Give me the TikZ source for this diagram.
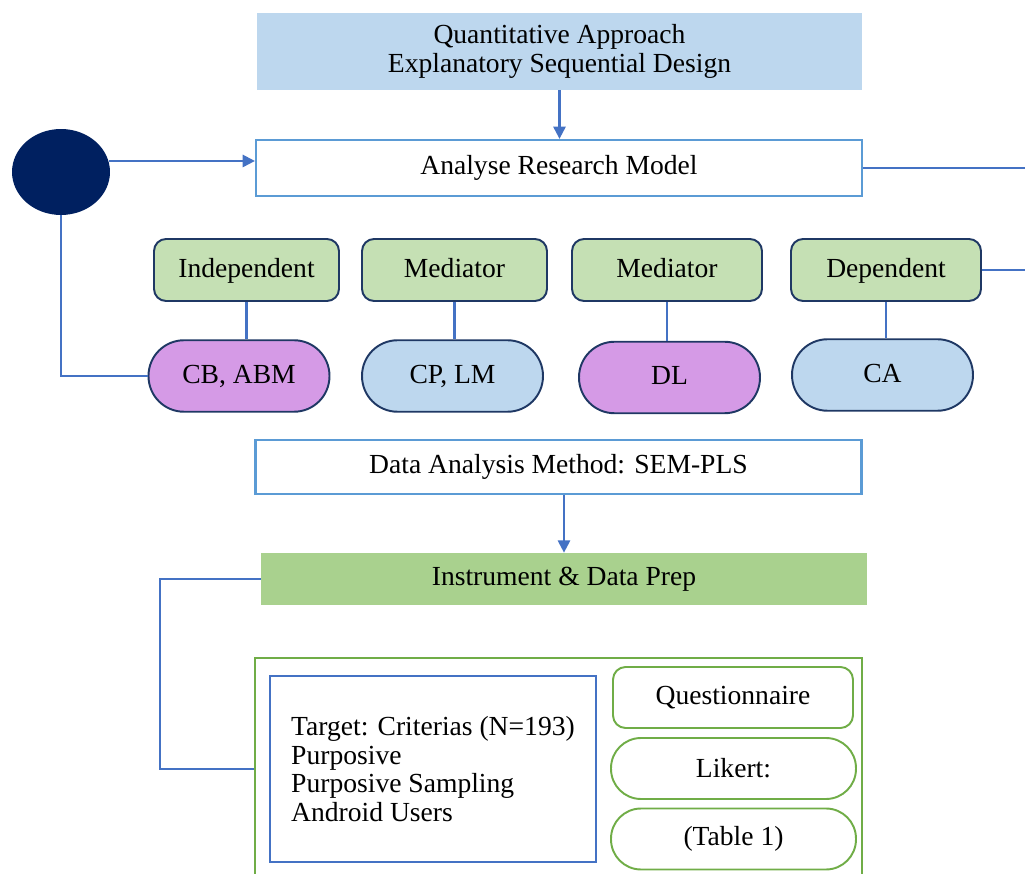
\documentclass[tikz,border=0pt]{standalone}
\usepackage{fontspec}
\setmainfont{Liberation Serif}
\usepackage{tikz}
\usetikzlibrary{arrows.meta,positioning,shapes.geometric,calc}
\definecolor{skyfill}  {HTML}{BDD7EE}
\definecolor{leaffill} {HTML}{C5E0B4}
\definecolor{prepfill} {HTML}{A9D18E}
\definecolor{lilac}    {HTML}{D59AE6}
\definecolor{navy}     {HTML}{002060}
\definecolor{navyline} {HTML}{1F3864}
\definecolor{linkblue} {HTML}{4472C4}
\definecolor{boxblue}  {HTML}{5B9BD5}
\definecolor{leafline} {HTML}{70AD47}

\begin{document}
\begin{tikzpicture}[x=0.02cm,y=-0.02cm,
    font=\fontsize{15.7}{16.4}\selectfont,
    link/.style={linkblue,line width=1.2pt},
    arr/.style={link,-{Triangle[length=7pt,width=7pt]}},
    wide/.style={minimum width=12.12cm,inner sep=0pt},
    varbox/.style={draw=navyline,line width=1.1pt,fill=leaffill,rounded corners=0.24cm,
      minimum height=1.24cm,text height=11pt,text depth=3pt},
    pill/.style={draw=navyline,line width=1.1pt,rounded corners=0.71cm,minimum width=3.62cm,
      minimum height=1.43cm,text height=11pt,text depth=3pt},
    greenpill/.style={draw=leafline,line width=1.1pt,rounded corners=0.6cm,minimum width=4.9cm,minimum height=1.22cm}]
    \useasboundingbox (0,0) rectangle (1025,874);

    % approach and model
    \node[wide,fill=skyfill,minimum height=1.54cm,align=center] (top) at (559.5,51.5)
      {\rule{0pt}{8pt}Quantitative Approach\\Explanatory Sequential Design};
    \node[wide,draw=boxblue,line width=1.3pt,minimum height=1.12cm] (analyse) at (559,168) {Analyse Research Model};
    \node[ellipse,fill=navy,minimum width=1.96cm,minimum height=1.72cm] (circ) at (61,172) {};

    % variable row
    \node[varbox,minimum width=3.7cm] (indep) at (246.5,270) {Independent};
    \node[varbox,minimum width=3.7cm] (medA) at (454.5,270) {Mediator};
    \node[varbox,minimum width=3.8cm] (medB) at (667,270) {Mediator};
    \node[varbox,minimum width=3.8cm] (dep) at (886,270) {Dependent};

    % constructs
    \node[pill,fill=lilac] (cb) at (239,376) {CB, ABM};
    \node[pill,fill=skyfill] (cp) at (452.5,376) {CP, LM};
    \node[pill,fill=lilac] (dl) at (669.5,377.5) {DL};
    \node[pill,fill=skyfill] (ca) at (882.5,375) {CA};

    % method and instrument
    \node[wide,draw=boxblue,line width=1.3pt,minimum height=1.08cm] (data) at (558.5,467) {Data Analysis Method: SEM-PLS};
    \node[wide,fill=prepfill,minimum height=1.04cm] (instr) at (564,579) {Instrument \& Data Prep};

    % sampling frame
    \node[draw=leafline,line width=1.1pt,minimum width=12.14cm,minimum height=4.44cm] (outer) at (558.5,769) {};
    \node[draw=linkblue,line width=1.1pt,minimum width=6.52cm,minimum height=3.72cm,align=left] (target) at (433,769)
      {Target: Criterias (N=193)\\Purposive\\Purposive Sampling\\Android Users};
    \node[draw=leafline,line width=1.1pt,rounded corners=0.25cm,minimum width=4.8cm,minimum height=1.22cm] (quest) at (733,697.5) {Questionnaire};
    \node[greenpill] (likert) at (733.5,768.5) {Likert:};
    \node[greenpill] (table) at (733.5,839) {(Table 1)};

    \coordinate (edgeR) at (1025,0);
    \coordinate (bendL) at (160,0);

    % connectors
    \draw[arr] (top.south) -- (top.south |- analyse.north);
    \draw[arr] (circ.13) -- (circ.13 -| analyse.west);
    \draw[link] (circ.south) |- (cb.west);
    \draw[link] (analyse.east) -- (analyse.east -| edgeR);
    \draw[link] (dep.east) -- (dep.east -| edgeR);
    \foreach \up/\low in {indep/cb,medA/cp,medB/dl,dep/ca} {
      \draw[link] (\up.south) -- (\up.south |- \low.north);
    }
    \draw[arr] (data.south -| instr.north) -- (instr.north);
    \draw[link] (instr.west) -- (instr.west -| bendL) |- (outer.west);
  \end{tikzpicture}
\end{document}
